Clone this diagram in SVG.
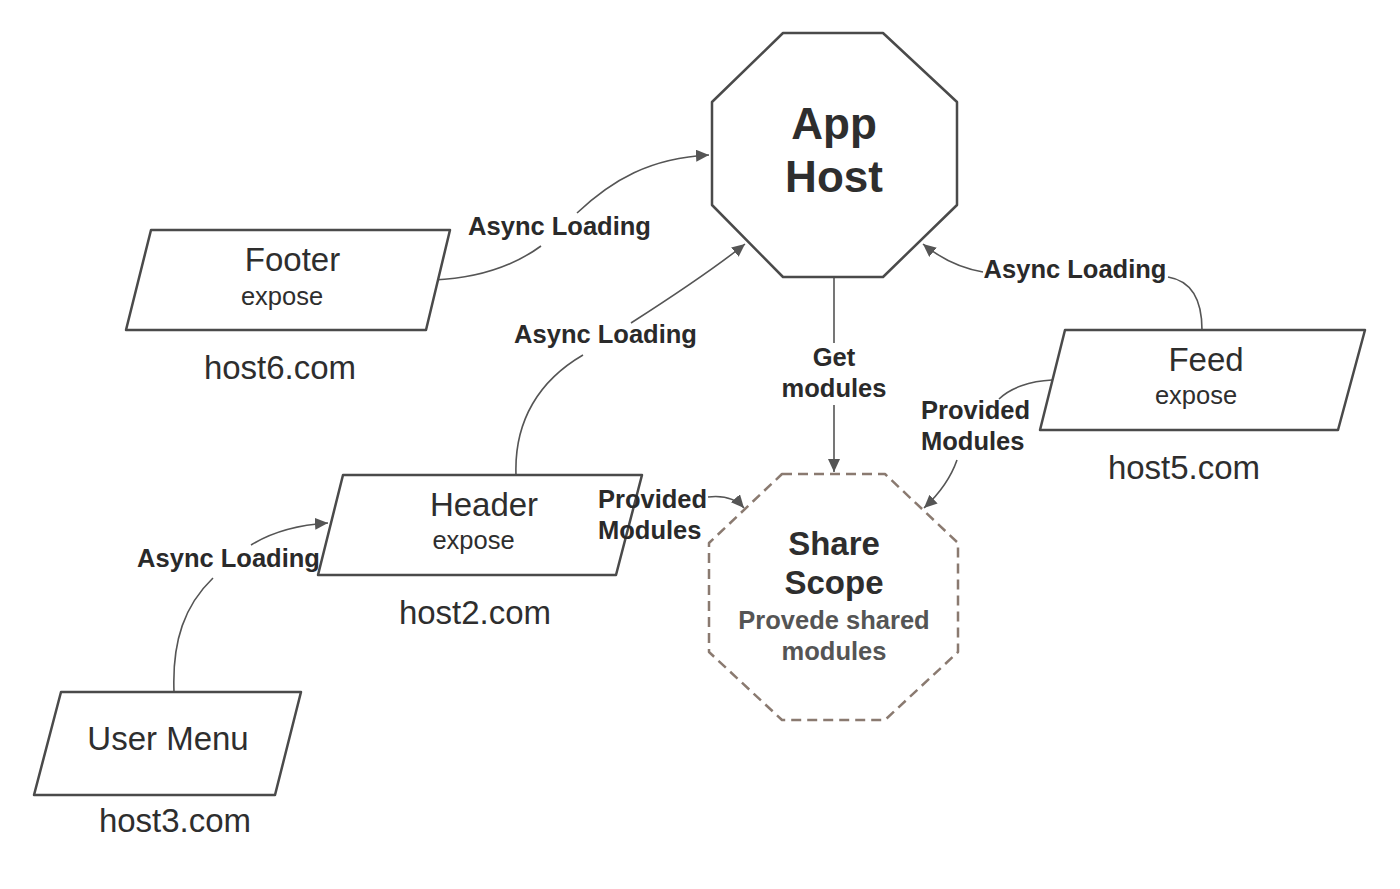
<svg xmlns="http://www.w3.org/2000/svg" width="1400" height="889" viewBox="0 0 1400 889">
<defs>
<style>
.node{fill:#fff;stroke:#4a4a4a;stroke-width:2.5;stroke-linejoin:round}
.dash{fill:#fff;stroke:#8a7a70;stroke-width:2.5;stroke-dasharray:10 6;stroke-linejoin:round}
.edge{fill:none;stroke:#555;stroke-width:1.6}
text{font-family:"Liberation Sans",Arial,sans-serif;fill:#2e2e2e}
.t{font-size:33px;text-anchor:middle}
.e{font-size:25.5px;text-anchor:middle}
.h{font-size:33px;text-anchor:middle}
.lb{font-size:25.5px;font-weight:bold;fill:#2a2a2a}
.big{font-size:44px;font-weight:bold;text-anchor:middle}
.ss{font-size:33px;font-weight:bold;text-anchor:middle}
.sub{font-size:25.5px;font-weight:bold;text-anchor:middle;fill:#555}
</style>
<marker id="ah" markerUnits="userSpaceOnUse" markerWidth="14" markerHeight="12" refX="13" refY="6" orient="auto">
<path d="M0,0 L13,6 L0,12 z" fill="#555"/>
</marker>
</defs>
<rect width="1400" height="889" fill="#fff"/>
<g id="connectors">
<path class="edge" marker-end="url(#ah)" d="M434,280 C480,278 515,265 541,246 M577,213 C612,180 650,158 709,155"/>
<path class="edge" marker-end="url(#ah)" d="M516,475 C514,420 540,380 583,355 M631,323 C670,298 715,268 745,244"/>
<path class="edge" marker-end="url(#ah)" d="M1202,330 C1202,300 1192,281 1168,277 M983,272 C960,268 940,258 923,244"/>
<path class="edge" marker-end="url(#ah)" d="M174,692 C172,640 185,605 213,578 M251,545 C272,532 296,525 328,523"/>
<path class="edge" marker-end="url(#ah)" d="M834,277 L834,343 M834,405 L834,472"/>
<path class="edge" marker-end="url(#ah)" d="M1052,380 C1030,381 1010,388 999,399 M957,460 C950,480 938,495 924,508"/>
<path class="edge" marker-end="url(#ah)" d="M708,497 C725,495 737,500 744,508"/>
<text class="lb" x="559.5" y="235" text-anchor="middle">Async Loading</text>
<text class="lb" x="605.5" y="343" text-anchor="middle">Async Loading</text>
<text class="lb" x="1075" y="278" text-anchor="middle">Async Loading</text>
<text class="lb" x="228.5" y="567" text-anchor="middle">Async Loading</text>
<text class="lb" x="834" y="366" text-anchor="middle">Get</text>
<text class="lb" x="834" y="397" text-anchor="middle">modules</text>
<text class="lb" x="921" y="419">Provided</text>
<text class="lb" x="921" y="450">Modules</text>
</g>
<g id="app-host">
<polygon class="node" points="783,33 883,33 957,102 957,205 883,277 783,277 712,205 712,102"/>
<text class="big" x="834" y="139">App</text>
<text class="big" x="834" y="192">Host</text>
</g>
<g id="share-scope">
<polygon class="dash" points="782,474 885,474 958,543 958,652 885,720 782,720 709,652 709,543"/>
<text class="ss" x="834" y="555">Share</text>
<text class="ss" x="834" y="594">Scope</text>
<text class="sub" x="834" y="629">Provede shared</text>
<text class="sub" x="834" y="660">modules</text>
</g>
<g id="footer">
<polygon class="node" points="151,230 450,230 426,330 126,330"/>
<text class="t" x="292.5" y="271">Footer</text>
<text class="e" x="282" y="305">expose</text>
<text class="h" x="280" y="379">host6.com</text>
</g>
<g id="header">
<polygon class="node" points="343,475 642,475 616,575 318,575"/>
<text class="t" x="484" y="516">Header</text>
<text class="e" x="473.5" y="549">expose</text>
<text class="h" x="475" y="624">host2.com</text>
<text class="lb" x="598" y="508">Provided</text>
<text class="lb" x="598" y="539">Modules</text>
</g>
<g id="user-menu">
<polygon class="node" points="61,692 301,692 275,795 34,795"/>
<text class="t" x="168" y="750">User Menu</text>
<text class="h" x="175" y="832">host3.com</text>
</g>
<g id="feed">
<polygon class="node" points="1065,330 1365,330 1338,430 1040,430"/>
<text class="t" x="1206" y="371">Feed</text>
<text class="e" x="1196" y="404">expose</text>
<text class="h" x="1184" y="479">host5.com</text>
</g>
</svg>
